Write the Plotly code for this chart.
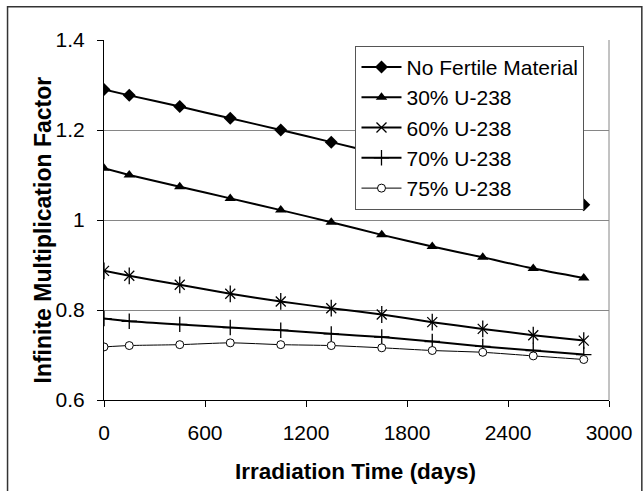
import plotly.graph_objects as go

# Irradiation time (days) at which k-infinity was computed
DAYS = [0, 150, 450, 750, 1050, 1350, 1650, 1950, 2250, 2550, 2850]

NO_FERTILE = [1.290, 1.277, 1.252, 1.226, 1.200, 1.173, 1.146, 1.119, 1.092, 1.064, 1.034]
U238_30 = [1.115, 1.100, 1.074, 1.048, 1.022, 0.995, 0.967, 0.941, 0.917, 0.892, 0.871]
U238_60 = [0.887, 0.876, 0.856, 0.836, 0.819, 0.804, 0.790, 0.773, 0.758, 0.744, 0.732]
U238_70 = [0.781, 0.775, 0.768, 0.761, 0.755, 0.747, 0.740, 0.730, 0.719, 0.710, 0.701]
U238_75 = [0.718, 0.721, 0.723, 0.727, 0.723, 0.721, 0.716, 0.710, 0.706, 0.698, 0.690]

X_TICKS = [0, 600, 1200, 1800, 2400, 3000]
Y_TICKS = [0.6, 0.8, 1.0, 1.2, 1.4]

FONT = 'Arial, Liberation Sans, sans-serif'
GRID_COLOUR = '#868686'

fig = go.Figure()

fig.add_trace(go.Scatter(
    x=DAYS, y=NO_FERTILE, name='No Fertile Material', mode='lines+markers',
    line=dict(color='black', width=2, shape='spline', smoothing=0.6),
    marker=dict(symbol='diamond', size=10, color='black')))

fig.add_trace(go.Scatter(
    x=DAYS, y=U238_30, name='30% U-238', mode='lines+markers',
    line=dict(color='black', width=2, shape='spline', smoothing=0.6),
    marker=dict(symbol='triangle-up', size=10, color='black')))

fig.add_trace(go.Scatter(
    x=DAYS, y=U238_60, name='60% U-238', mode='lines+markers',
    line=dict(color='black', width=2, shape='spline', smoothing=0.6),
    marker=dict(symbol='x-thin-open', size=10, color='black',
                line=dict(color='black', width=1.3))))
# vertical stroke to turn the x into an excel-style star
fig.add_trace(go.Scatter(
    x=DAYS, y=U238_60, mode='markers', showlegend=False, hoverinfo='skip',
    marker=dict(symbol='line-ns-open', size=12, color='black',
                line=dict(color='black', width=1.3))))

fig.add_trace(go.Scatter(
    x=DAYS, y=U238_70, name='70% U-238', mode='lines+markers',
    line=dict(color='black', width=2, shape='spline', smoothing=0.6),
    marker=dict(symbol='cross-thin-open', size=11, color='black',
                line=dict(color='black', width=1.3))))

fig.add_trace(go.Scatter(
    x=DAYS, y=U238_75, name='75% U-238', mode='lines+markers',
    line=dict(color='black', width=1, shape='spline', smoothing=0.6),
    marker=dict(symbol='circle', size=8, color='white',
                line=dict(color='black', width=1))))

fig.update_layout(
    width=644, height=491,
    margin=dict(l=104, r=32, t=40, b=91),
    paper_bgcolor='white', plot_bgcolor='white',
    font=dict(family=FONT, size=21, color='black'),
    legend=dict(x=0.498, y=0.984, xanchor='left', yanchor='top',
                bgcolor='white', bordercolor='#555555', borderwidth=1,
                font=dict(size=21), itemwidth=40, tracegroupgap=0),
)

fig.update_xaxes(
    range=[0, 3000], tickvals=X_TICKS, showgrid=False, zeroline=False,
    showline=True, linecolor='black', linewidth=1,
    ticks='outside', ticklen=6, tickcolor='black', ticklabelstandoff=8)

fig.update_yaxes(
    range=[0.6, 1.4], tickvals=Y_TICKS, ticktext=['0.6', '0.8', '1', '1.2', '1.4'],
    showgrid=True, gridcolor=GRID_COLOUR, gridwidth=1, zeroline=False,
    showline=True, linecolor='black', linewidth=1,
    ticks='outside', ticklen=6, tickcolor='black', ticklabelstandoff=8)

# axis titles, placed like excel's (centred on the chart area)
fig.add_annotation(text='<b>Irradiation Time (days)</b>', xref='paper', yref='paper',
                   x=0.499, y=-0.198, xanchor='center', yanchor='middle',
                   showarrow=False, font=dict(size=22.5))
fig.add_annotation(text='<b>Infinite Multiplication Factor</b>', xref='paper', yref='paper',
                   x=-0.12, y=0.472, xanchor='center', yanchor='middle', textangle=-90,
                   showarrow=False, font=dict(size=23))

# right edge of the plot area
fig.add_shape(type='line', xref='paper', yref='paper', x0=1, x1=1, y0=0, y1=1,
              line=dict(color=GRID_COLOUR, width=1))
# outer chart border
fig.add_shape(type='rect', xref='paper', yref='paper',
              x0=-0.191, x1=1.065, y0=-0.26, y1=1.0925,
              line=dict(color='#333333', width=1.5))

# drop the default page margin so the figure sits at the window's corner
fig.write_html('out.html', config={'displayModeBar': False},
               post_script="document.body.style.margin='0px';")
